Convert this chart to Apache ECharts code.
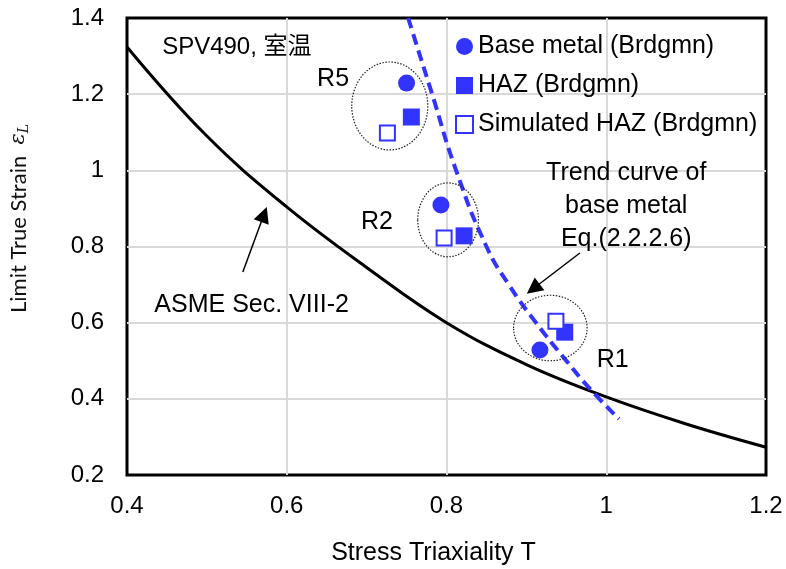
<!DOCTYPE html>
<html>
<head>
<meta charset="utf-8">
<script src="https://cdn.jsdelivr.net/npm/echarts@6/dist/echarts.min.js"></script>
<style>
  html, body { margin: 0; padding: 0; background: #fff; }
  #chart { width: 786px; height: 569px; }
</style>
</head>
<body>
<div id="chart"></div>
<script>
// measured values (stress triaxiality T, limit true strain)
const baseT = [0.750, 0.793, 0.917];
const baseE = [1.229, 0.909, 0.528];
const hazT = [0.756, 0.822, 0.948];
const hazE = [1.140, 0.828, 0.575];
const simT = [0.726, 0.797, 0.937];
const simE = [1.098, 0.822, 0.604];

// ASME Sec. VIII-2 curve
const asmeT = [0.4, 0.5, 0.6, 0.7, 0.8, 0.9, 1.0, 1.1, 1.2];
const asmeE = [1.324, 1.09, 0.904, 0.745, 0.600, 0.490, 0.405, 0.334, 0.273];

// trend curve of base metal, Eq.(2.2.2.6)
const trendT = [0.752, 0.782, 0.812, 0.850, 0.878, 0.912, 0.950, 0.978, 1.016];
const trendE = [1.400, 1.200, 1.000, 0.800, 0.700, 0.600, 0.500, 0.430, 0.347];

const seriesNames = ['Base metal (Brdgmn)', 'HAZ (Brdgmn)', 'Simulated HAZ (Brdgmn)'];

// dotted rings round each group: centre T, centre strain, half width, half height
const ringT = [0.729, 0.802, 0.930];
const ringE = [1.169, 0.870, 0.586];
const ringW = [0.0476, 0.0380, 0.0460];
const ringH = [0.1155, 0.0970, 0.0860];

const FONT = "'Liberation Sans', Arial, 'Noto Sans CJK JP', sans-serif";
const BLUE = '#3333ff';

const zip = (a, b) => a.map((v, i) => [v, b[i]]);

const chart = echarts.init(document.getElementById('chart'), null, { renderer: 'canvas' });

const option = {
  backgroundColor: '#fff',
  animation: false,
  textStyle: { fontFamily: FONT, color: '#000' },
  grid: {
    left: 127, top: 18, right: 20, bottom: 94,
    outerBoundsMode: 'none', containLabel: false,
    show: true, borderColor: '#000', borderWidth: 3, backgroundColor: '#fff'
  },
  legend: {
    data: seriesNames,
    orient: 'vertical',
    left: 450, top: 29,
    itemWidth: 17, itemHeight: 17, itemGap: 14,
    textStyle: { fontSize: 25, color: '#000', fontFamily: FONT }
  },
  xAxis: {
    type: 'value', min: 0.4, max: 1.2, interval: 0.2,
    name: 'Stress Triaxiality T',
    nameLocation: 'middle', nameGap: 66,
    nameTextStyle: { fontSize: 25, color: '#000', padding: [0, 26, 0, 0] },
    axisLine: { show: false }, axisTick: { show: false },
    axisLabel: { fontSize: 24, color: '#000', margin: 19, formatter: v => String(+v.toFixed(1)) },
    splitLine: { showMinLine: false, showMaxLine: false, lineStyle: { color: '#d9d9d9', width: 2 } }
  },
  yAxis: {
    type: 'value', min: 0.2, max: 1.4, interval: 0.2,
    name: '{t|Limit True Strain  }{e|ε}{s|L}',
    nameLocation: 'middle', nameGap: 96,
    nameTextStyle: {
      padding: [0, 0, 0, 56],
      rich: {
        t: { fontFamily: 'Lato, sans-serif', fontSize: 22, color: '#111' },
        e: { fontFamily: "'DejaVu Serif', serif", fontStyle: 'italic', fontSize: 21, color: '#111' },
        s: { fontFamily: "'DejaVu Serif', serif", fontStyle: 'italic', fontSize: 14, color: '#111', padding: [10, 0, 0, 0] }
      }
    },
    axisLine: { show: false }, axisTick: { show: false },
    axisLabel: { fontSize: 24, color: '#000', margin: 23, formatter: v => String(+v.toFixed(1)) },
    splitLine: { showMinLine: false, showMaxLine: false, lineStyle: { color: '#d9d9d9', width: 2 } }
  },
  series: [
    {
      name: 'ASME', type: 'line', data: zip(asmeT, asmeE), smooth: 0.4,
      showSymbol: false, symbol: 'none', z: 3,
      lineStyle: { color: '#000', width: 3 }
    },
    {
      name: 'Trend', type: 'line', data: zip(trendT, trendE), smooth: 0.5,
      showSymbol: false, symbol: 'none', z: 3,
      lineStyle: { color: BLUE, width: 4, type: [11, 6] }
    },
    {
      name: 'rings', type: 'custom', z: 4, silent: true,
      data: ringT.map((t, i) => [t, ringE[i], ringW[i], ringH[i]]),
      renderItem: function (params, api) {
        const c = api.coord([api.value(0), api.value(1)]);
        const s = api.size([api.value(2), api.value(3)]);
        return {
          type: 'ellipse',
          shape: { cx: c[0], cy: c[1], rx: s[0], ry: s[1] },
          style: { fill: null, stroke: '#222', lineWidth: 1.2, lineDash: [1.5, 1.5] }
        };
      }
    },
    {
      name: 'arrows', type: 'lines', coordinateSystem: 'cartesian2d', z: 5, silent: true,
      symbol: ['none', 'triangle'], symbolSize: [13, 16],
      lineStyle: { color: '#000', width: 1.5, opacity: 1 },
      data: [
        { coords: [[0.545, 0.733], [0.5715, 0.884]] },
        { coords: [[0.967, 0.783], [0.9085, 0.689]] }
      ]
    },
    {
      name: seriesNames[0], type: 'scatter', data: zip(baseT, baseE), z: 6,
      symbol: 'circle', symbolSize: 17, itemStyle: { color: BLUE, opacity: 1 }
    },
    {
      name: seriesNames[1], type: 'scatter', data: zip(hazT, hazE), z: 6,
      symbol: 'rect', symbolSize: 17, itemStyle: { color: BLUE, opacity: 1 }
    },
    {
      name: seriesNames[2], type: 'scatter', data: zip(simT, simE), z: 6,
      symbol: 'rect', symbolSize: 15,
      itemStyle: { color: '#fff', borderColor: BLUE, borderWidth: 2, opacity: 1 }
    },
    {
      name: 'notes', type: 'scatter', symbolSize: 0, silent: true, z: 7,
      itemStyle: { opacity: 1 },
      label: { show: true, position: 'inside', fontSize: 25, color: '#000', fontFamily: FONT },
      data: [
        { value: [0.444, 1.324], label: { formatter: 'SPV490, 室温', position: 'right', distance: 0, fontSize: 24 } },
        { value: [0.658, 1.240], label: { formatter: 'R5' } },
        { value: [0.713, 0.864], label: { formatter: 'R2' } },
        { value: [1.008, 0.502], label: { formatter: 'R1' } },
        { value: [0.556, 0.646], label: { formatter: 'ASME Sec. VIII-2' } },
        { value: [1.025, 0.906], label: { formatter: 'Trend curve of\nbase metal\nEq.(2.2.2.6)', lineHeight: 33 } }
      ]
    }
  ]
};

chart.setOption(option);
</script>
</body>
</html>
